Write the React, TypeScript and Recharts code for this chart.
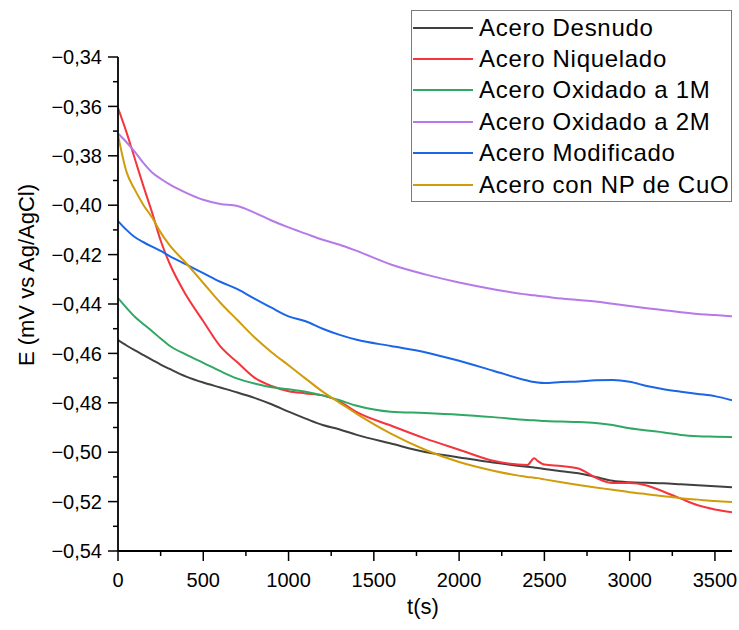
import React from "react";
import { LineChart, Line, XAxis, YAxis, Legend } from "recharts";

const times = [0, 50, 100, 150, 200, 250, 300, 400, 500, 600, 700, 800, 900, 1000, 1100, 1200, 1300, 1400, 1600, 1800, 2000, 2200, 2400, 2440, 2460, 2500, 2600, 2700, 2800, 2900, 3000, 3100, 3200, 3300, 3400, 3500, 3600];

const desnudo = [-0.4546, -0.4568, -0.4588, -0.4607, -0.4626, -0.4645, -0.4662, -0.4694, -0.4718, -0.4738, -0.4758, -0.478, -0.4806, -0.4836, -0.4864, -0.489, -0.4908, -0.493, -0.4965, -0.4999, -0.5021, -0.5042, -0.5059, -0.5062, -0.5064, -0.5068, -0.5077, -0.5085, -0.51, -0.5116, -0.5122, -0.5124, -0.5126, -0.513, -0.5134, -0.5138, -0.5142];

const niquelado = [-0.3607, -0.3705, -0.3815, -0.3925, -0.403, -0.4143, -0.4232, -0.4365, -0.447, -0.4572, -0.4636, -0.4698, -0.4732, -0.4753, -0.4762, -0.477, -0.4795, -0.4838, -0.4892, -0.4944, -0.499, -0.5035, -0.5052, -0.5024, -0.5035, -0.505, -0.5056, -0.5066, -0.5103, -0.5125, -0.5125, -0.5135, -0.516, -0.5188, -0.5215, -0.5232, -0.5243];

const oxidado1M = [-0.4376, -0.4416, -0.4453, -0.4482, -0.451, -0.454, -0.4568, -0.4605, -0.4638, -0.4672, -0.4702, -0.4722, -0.4737, -0.4745, -0.4755, -0.477, -0.479, -0.4812, -0.4836, -0.4841, -0.4848, -0.4858, -0.487, -0.4871, -0.4872, -0.4874, -0.4876, -0.4878, -0.4882, -0.489, -0.4903, -0.4912, -0.492, -0.493, -0.4935, -0.4937, -0.4939];

const oxidado2M = [-0.371, -0.3745, -0.3785, -0.383, -0.3868, -0.3893, -0.3915, -0.395, -0.3978, -0.3995, -0.4003, -0.403, -0.4062, -0.409, -0.4115, -0.414, -0.416, -0.4185, -0.424, -0.428, -0.4313, -0.434, -0.4362, -0.4365, -0.4367, -0.437, -0.4378, -0.4384, -0.439, -0.4399, -0.4408, -0.4417, -0.4425, -0.4433, -0.444, -0.4445, -0.445];

const modificado = [-0.4064, -0.41, -0.413, -0.415, -0.4168, -0.4185, -0.4205, -0.424, -0.4275, -0.431, -0.434, -0.4378, -0.4415, -0.445, -0.447, -0.45, -0.4525, -0.4545, -0.457, -0.4595, -0.463, -0.467, -0.471, -0.4716, -0.4718, -0.472, -0.4716, -0.4714, -0.4709, -0.4708, -0.4715, -0.4732, -0.4745, -0.4755, -0.4764, -0.4773, -0.479];

const npCuO = [-0.3716, -0.3865, -0.3939, -0.4, -0.405, -0.411, -0.416, -0.4235, -0.4315, -0.4395, -0.4465, -0.4535, -0.4595, -0.4648, -0.4702, -0.4755, -0.48, -0.4845, -0.4925, -0.499, -0.504, -0.5075, -0.51, -0.5103, -0.5105, -0.511, -0.5122, -0.5133, -0.5143, -0.5152, -0.5162, -0.517, -0.5178, -0.5186, -0.5192, -0.5198, -0.5202];

const seriesNames = ["Acero Desnudo", "Acero Niquelado", "Acero Oxidado a 1M", "Acero Oxidado a 2M", "Acero Modificado", "Acero con NP de CuO"];
const seriesKeys = ["desnudo", "niquelado", "oxidado1M", "oxidado2M", "modificado", "npCuO"];
const seriesColors = ["#404040", "#f5343c", "#2ea862", "#b679e8", "#1a66e6", "#d19c0a"];

const xTicks = [0, 250, 500, 750, 1000, 1250, 1500, 1750, 2000, 2250, 2500, 2750, 3000, 3250, 3500];
const yTicks = [-0.54, -0.53, -0.52, -0.51, -0.5, -0.49, -0.48, -0.47, -0.46, -0.45, -0.44, -0.43, -0.42, -0.41, -0.4, -0.39, -0.38, -0.37, -0.36, -0.35, -0.34];

const FONT = '"Liberation Sans", Arial, Helvetica, sans-serif';

const data = times.map((t, i) => ({
  t,
  desnudo: desnudo[i],
  niquelado: niquelado[i],
  oxidado1M: oxidado1M[i],
  oxidado2M: oxidado2M[i],
  modificado: modificado[i],
  npCuO: npCuO[i],
}));

const fmtY = (v: number) => v.toFixed(2).replace("-", "\u2212").replace(".", ",");

const XTick = (props: any) => {
  const { x, y, payload } = props;
  const major = Math.round(payload.value) % 500 === 0;
  return (
    <g>
      <line x1={x} x2={x} y1={y} y2={y + (major ? 10 : 5)} stroke="#000" strokeWidth={1.5} />
      {major && (
        <text x={x} y={y + 36} textAnchor="middle" fontSize={20} fontFamily={FONT} fill="#000">
          {payload.value}
        </text>
      )}
    </g>
  );
};

const YTick = (props: any) => {
  const { x, y, payload } = props;
  const major = Math.round(Math.abs(payload.value) * 100) % 2 === 0;
  return (
    <g>
      <line x1={x - (major ? 10 : 5)} x2={x} y1={y} y2={y} stroke="#000" strokeWidth={1.5} />
      {major && (
        <text x={x - 16} y={y} dy="0.36em" textAnchor="end" fontSize={20} fontFamily={FONT} fill="#000">
          {fmtY(payload.value)}
        </text>
      )}
    </g>
  );
};

const YLabel = (props: any) => {
  const { viewBox } = props;
  const cx = viewBox.x + 26;
  const cy = viewBox.y + 218;
  return (
    <text x={cx} y={cy} transform={`rotate(-90 ${cx} ${cy})`} textAnchor="middle" dy="0.36em" fontSize={22} fontFamily={FONT} fill="#000">
      E (mV vs Ag/AgCl)
    </text>
  );
};

const XLabel = (props: any) => {
  const { viewBox } = props;
  return (
    <text x={viewBox.x + 305} y={viewBox.y + 63} textAnchor="middle" fontSize={22} fontFamily={FONT} fill="#000">
      t(s)
    </text>
  );
};

const LegendBox = (props: any) => {
  const payload = [...(props.payload || [])].sort(
    (a: any, b: any) => seriesNames.indexOf(a.value) - seriesNames.indexOf(b.value)
  );
  return (
    <div
      style={{
        width: 321,
        height: 192,
        boxSizing: "border-box",
        border: "1.5px solid #7a7a7a",
        background: "#fff",
        paddingTop: 1,
        fontFamily: FONT,
      }}
    >
      {payload.map((p: any) => (
        <div key={p.value} style={{ height: 31.4, display: "flex", alignItems: "center" }}>
          <span style={{ display: "inline-block", width: 60, height: 2, background: p.color, marginLeft: 1 }} />
          <span style={{ marginLeft: 6, fontSize: 24, letterSpacing: 0.7, color: "#000", whiteSpace: "nowrap" }}>{p.value}</span>
        </div>
      ))}
    </div>
  );
};

export default function App() {
  return (
    <div style={{ position: "absolute", left: 0, top: 0, background: "#fff" }}>
      <LineChart width={739} height={630} data={data} margin={{ top: 57, right: 7, bottom: 9, left: 0 }}>
        <XAxis
          dataKey="t"
          type="number"
          domain={[0, 3600]}
          ticks={xTicks}
          interval={0}
          tickSize={0}
          tickMargin={0}
          tickLine={false}
          tick={<XTick />}
          axisLine={{ stroke: "#000", strokeWidth: 1.8 }}
          height={70}
          label={<XLabel />}
          allowDataOverflow
        />
        <YAxis
          type="number"
          domain={[-0.54, -0.34]}
          ticks={yTicks}
          interval={0}
          tickSize={0}
          tickMargin={0}
          tickLine={false}
          tick={<YTick />}
          axisLine={{ stroke: "#000", strokeWidth: 1.8 }}
          width={118}
          label={<YLabel />}
          allowDataOverflow
        />
        <Legend
          layout="vertical"
          align="center"
          verticalAlign="middle"
          content={<LegendBox />}
          wrapperStyle={{ position: "absolute", left: 411, top: 10, width: 321, height: 192 }}
        />
        {seriesKeys.map((k, i) => (
          <Line
            key={k}
            dataKey={k}
            name={seriesNames[i]}
            stroke={seriesColors[i]}
            strokeWidth={2}
            dot={false}
            type="monotone"
            isAnimationActive={false}
          />
        ))}
      </LineChart>
    </div>
  );
}
